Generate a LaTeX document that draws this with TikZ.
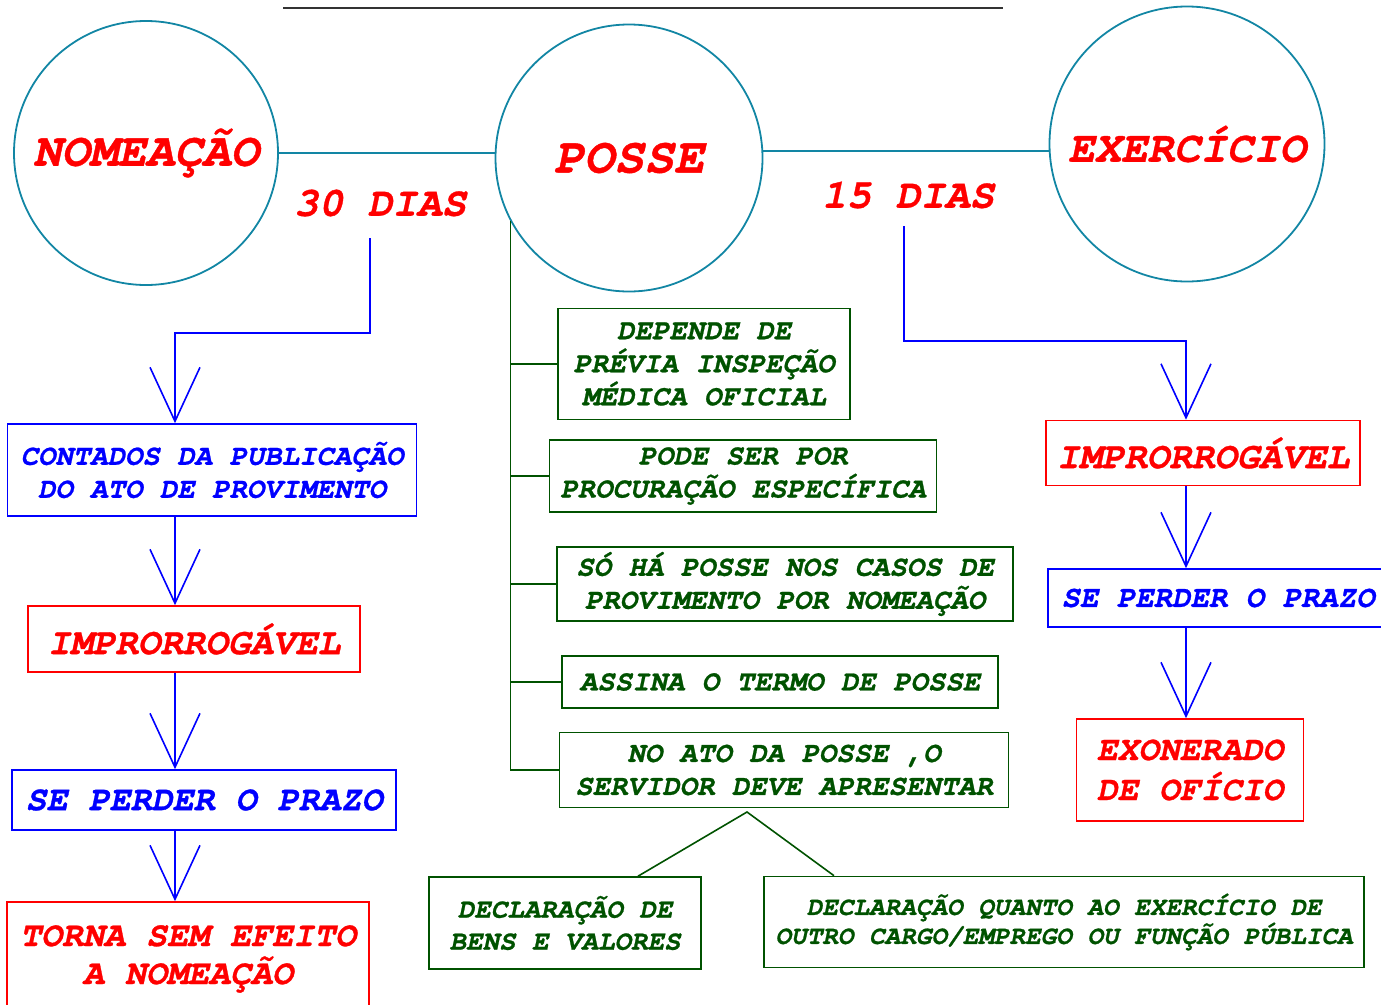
\documentclass[tikz,border=0pt]{standalone}
\usepackage{fontspec}
\setmainfont{texgyrecursor}[Extension=.otf,UprightFont=*-regular,BoldFont=*-bold,
  ItalicFont=*-italic,BoldItalicFont=*-bolditalic,BoldItalicFeatures={FakeBold=0.8}]
\usetikzlibrary{arrows.meta,positioning}
\definecolor{stageteal}{RGB}{18,134,164}
\definecolor{leafgreen}{RGB}{0,82,0}
\newcommand\txtsize[2]{\fontsize{#1}{#2}\selectfont}
\tikzset{%
  >={Straight Barb[length=54pt,width=50pt]},
  stage/.style={draw=stageteal,line width=1.8pt,circle,inner sep=0pt,text=red},
  bluebox/.style={draw=blue,line width=1.6pt,text=blue,align=center,inner sep=0pt},
  redbox/.style={draw=red,line width=1.6pt,text=red,align=center,inner sep=0pt},
  greenbox/.style={draw=leafgreen,line width=1.6pt,text=leafgreen,align=center,inner sep=0pt},
  blueline/.style={draw=blue,line width=1.6pt},
  greenline/.style={draw=leafgreen,line width=1.6pt},
  bi/.style={font=\bfseries\itshape\txtsize{#1}{33}}
}

\begin{document}
\begin{tikzpicture}[x=1pt,y=-1pt]
	%% frame of the page
	\useasboundingbox (0,0) rectangle (1381,1004);
	\draw[line width=2.6pt,black!80] (283,8) -- (1003,8);
	
	%% the three stages
	\node[stage,minimum size=264pt,font=\bfseries\itshape\txtsize{47}{50}] (nom) at (146,153) {NOMEAÇÃO};
	\node[stage,minimum size=267pt,font=\bfseries\itshape\txtsize{50}{56}] (posse) at (629,158) {POSSE};
	\node[stage,minimum size=275pt,font=\bfseries\itshape\txtsize{44}{50}] (exer) at (1187,144) {EXERCÍCIO};
	\draw[stageteal,line width=1.6pt] (nom.east) -- (nom.east -| posse.west);
	\draw[stageteal,line width=1.6pt] (posse.east |- exer.183) -- (exer.183);
	
	\node[text=red,bi=41] (d30) at (380,203) {30 DIAS};
	\node[text=red,bi=41] (d15) at (908,195) {15 DIAS};
	\coordinate (d30end) at (370,238);
	\coordinate (d15end) at (904,226);
	\coordinate (lcol) at (175,0); % left arrow column
	\coordinate (rcol) at (1186,0); % right arrow column
	
	%% left column: nomeacao
	\node[bluebox,bi=29,minimum width=409pt,minimum height=92pt] (pub) at (212,470)
	  {CONTADOS DA PUBLICAÇÃO\\DO ATO DE PROVIMENTO};
	\node[redbox,bi=37.5,minimum width=332pt,minimum height=66pt] (impA) at (194,639) {IMPRORROGÁVEL};
	\node[bluebox,bi=35,minimum width=384pt,minimum height=60pt] (perdA) at (204,800) {SE PERDER O PRAZO};
	\node[redbox,font=\bfseries\itshape\txtsize{35}{38},minimum width=362pt,minimum height=114pt] (torna) at (188,959)
	  {TORNA SEM EFEITO\\A NOMEAÇÃO};
	
	\draw[blueline,->] (d30end) -- ++(0,95) -| (pub.north -| lcol);
	\draw[blueline,->] (pub.south -| lcol) -- (impA.north -| lcol);
	\draw[blueline,->] (impA.south -| lcol) -- (perdA.north -| lcol);
	\draw[blueline,->] (perdA.south -| lcol) -- (torna.north -| lcol);
	
	%% middle column: posse
	\node[greenbox,bi=29,minimum width=292pt,minimum height=111pt] (dep) at (704,364)
	  {DEPENDE DE\\PRÉVIA INSPEÇÃO\\MÉDICA OFICIAL};
	\node[greenbox,bi=29,minimum width=387pt,minimum height=72pt] (proc) at (743,476)
	  {PODE SER POR\\PROCURAÇÃO ESPECÍFICA};
	\node[greenbox,bi=29,minimum width=456pt,minimum height=74pt] (nomc) at (785,584)
	  {SÓ HÁ POSSE NOS CASOS DE\\PROVIMENTO POR NOMEAÇÃO};
	\node[greenbox,bi=29,minimum width=436pt,minimum height=52pt] (termo) at (780,682)
	  {ASSINA O TERMO DE POSSE};
	\node[greenbox,bi=29,minimum width=449pt,minimum height=75pt] (ato) at (784,770)
	  {NO ATO DA POSSE ,O\\SERVIDOR DEVE APRESENTAR};
	\node[greenbox,font=\bfseries\itshape\txtsize{27.5}{32},minimum width=272pt,minimum height=92pt] (bens) at (565,923)
	  {DECLARAÇÃO DE\\BENS E VALORES};
	\node[greenbox,font=\bfseries\itshape\txtsize{26}{29},minimum width=600pt,minimum height=91pt] (decl) at (1064,922)
	  {DECLARAÇÃO QUANTO AO EXERCÍCIO DE\\OUTRO CARGO/EMPREGO OU FUNÇÃO PÚBLICA};
	
	\draw[greenline] (posse.208) -- (posse.208 |- ato.west) -- (ato.west);
	\foreach \leaf in {dep,proc,nomc,termo}
	  \draw[greenline] (posse.208 |- \leaf.west) -- (\leaf.west);
	\coordinate (fork) at (747,812);
	\draw[greenline] ([xshift=73pt]bens.north) -- (fork) -- ([xshift=-230pt]decl.north);
	
	%% right column: exercicio
	\node[redbox,bi=37.5,minimum width=314pt,minimum height=65pt] (impB) at (1203,453) {IMPRORROGÁVEL};
	\node[bluebox,bi=30.7,minimum width=340pt,minimum height=58pt] (perdB) at (1218,598)
	  {SE PERDER O PRAZO};
	\node[redbox,font=\bfseries\itshape\txtsize{34.5}{40},minimum width=227pt,minimum height=102pt] (exon) at (1190,770)
	  {EXONERADO\\DE OFÍCIO};
	
	\draw[blueline,->] (d15end) -- ++(0,115) -| (impB.north -| rcol);
	\draw[blueline,->] (impB.south -| rcol) -- (perdB.north -| rcol);
	\draw[blueline,->] (perdB.south -| rcol) -- (exon.north -| rcol);
\end{tikzpicture}
\end{document}
